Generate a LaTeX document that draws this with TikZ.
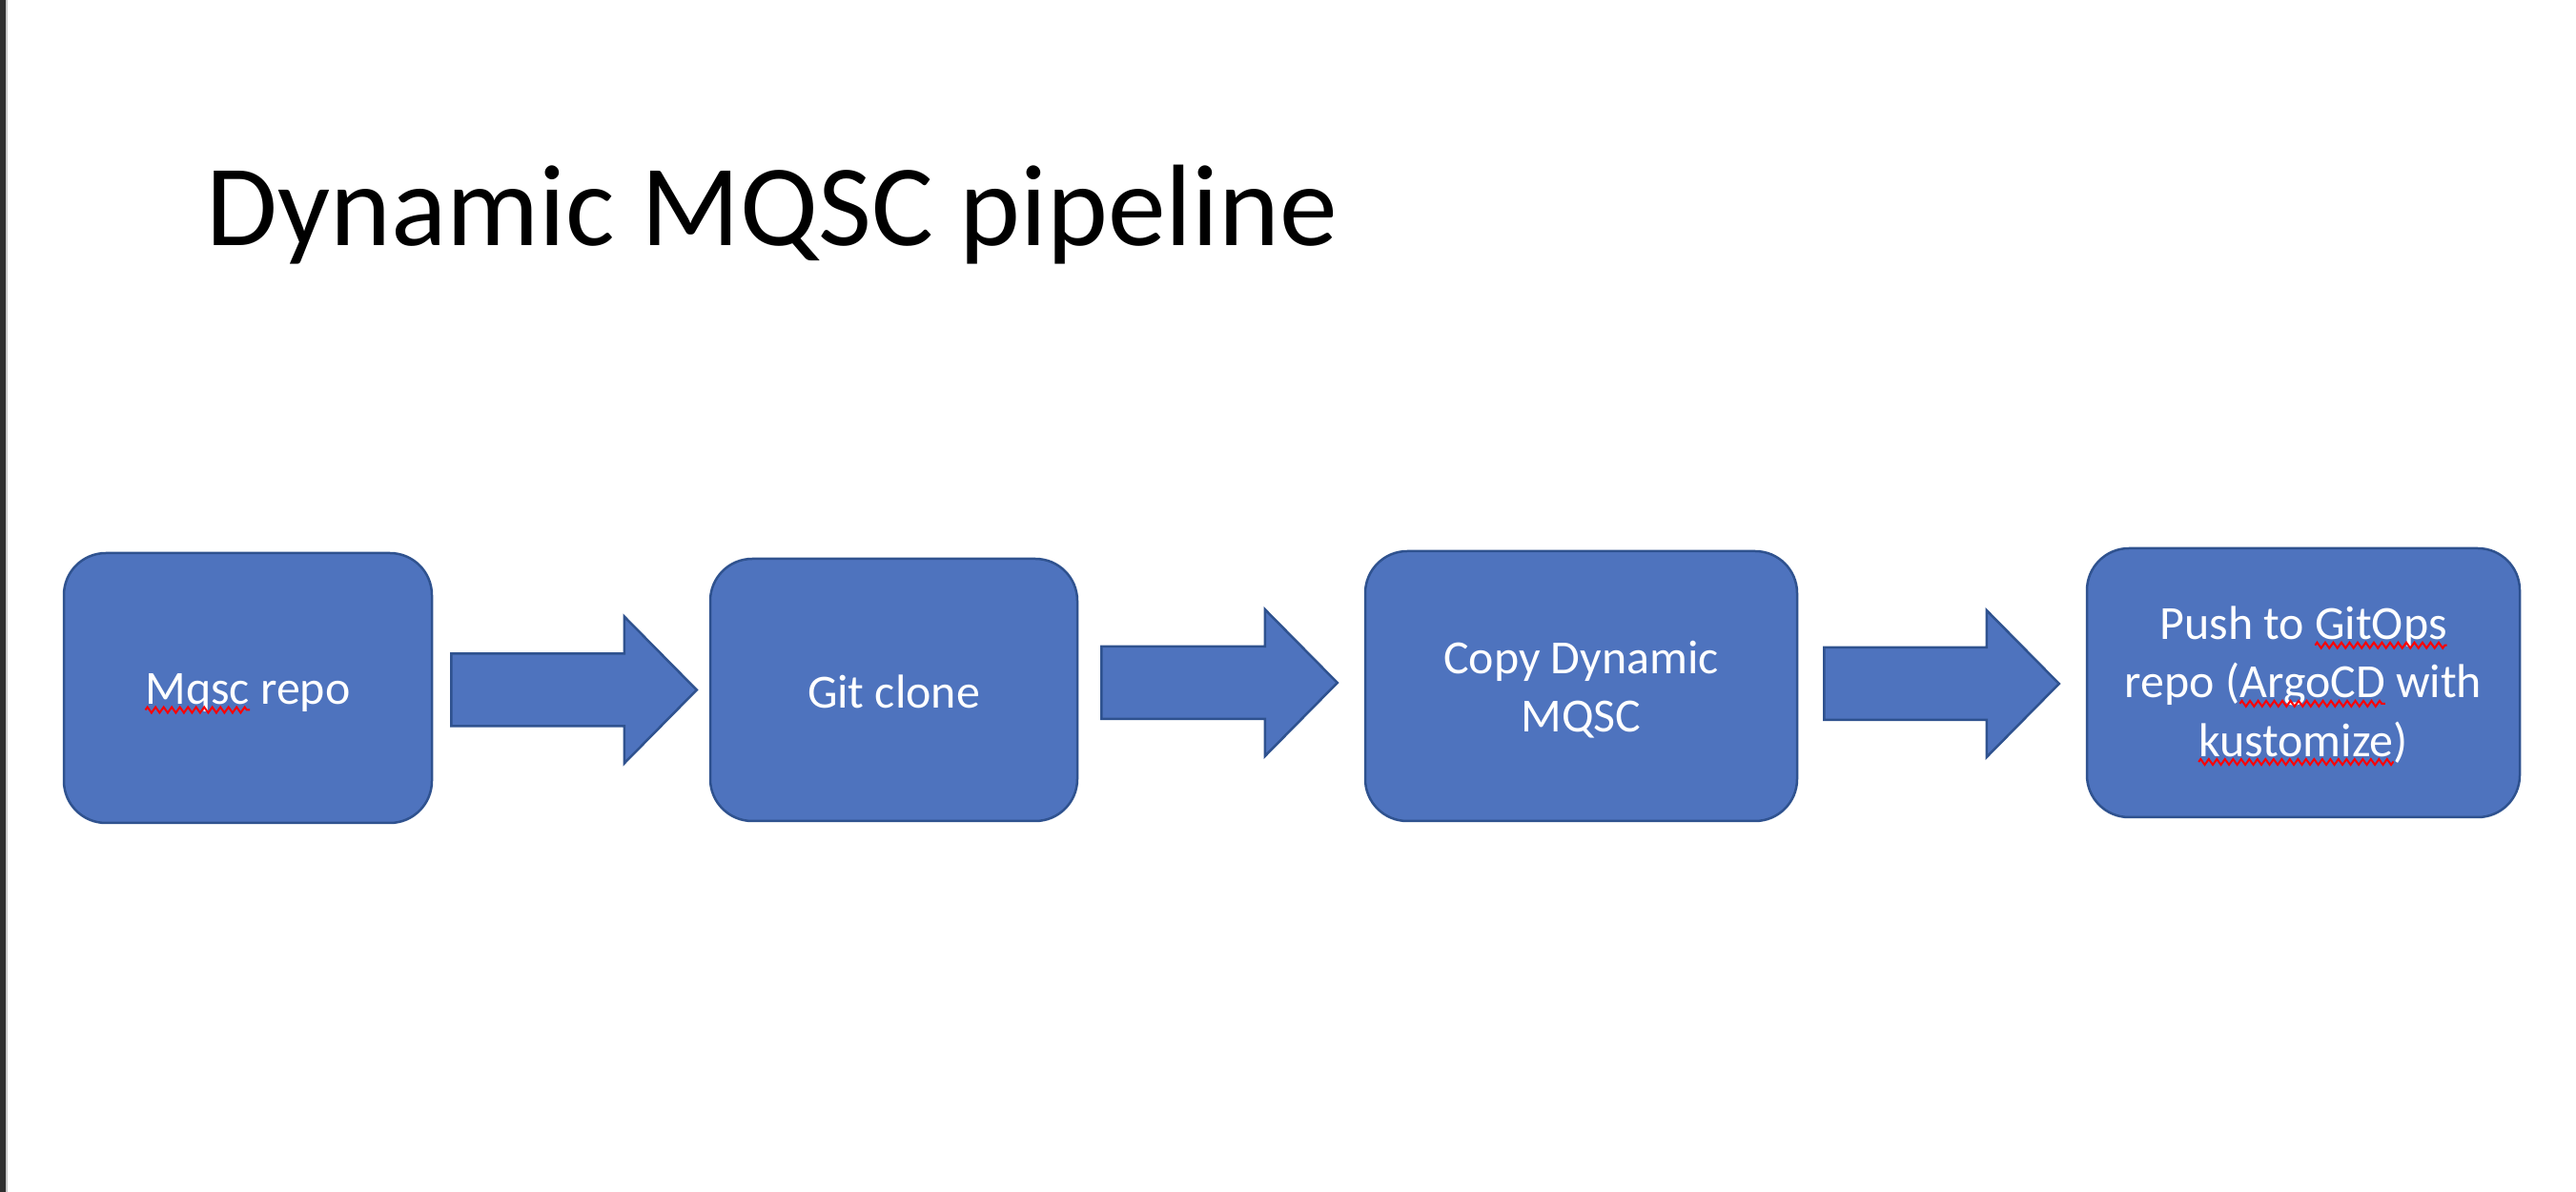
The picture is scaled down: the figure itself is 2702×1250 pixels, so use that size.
\documentclass[tikz,border=0pt]{standalone}
\usepackage{fontspec}
\setmainfont{Carlito}
\usetikzlibrary{decorations.pathmorphing,calc}
\definecolor{boxblue}{HTML}{4E73BE}
\definecolor{boxline}{HTML}{2F528F}
\definecolor{sidebar}{HTML}{2E2E2E}
\definecolor{sideedge}{HTML}{C8C8C8}
\newcommand\boxfont{\fontsize{14.2}{17.4}\selectfont}
% word with a red spell-check squiggle under it
\newcommand\sqw[1]{\begin{tikzpicture}[baseline=(sqword.base),x=1mm,y=1mm]%
\node[shape=rectangle,draw=none,fill=none,inner sep=0pt,outer sep=0pt,minimum width=0pt,minimum height=0pt,anchor=base,text=white,rounded corners=0pt] (sqword) at (0,0) {#1};%
\draw[overlay,draw=red,fill=none,line width=0.2mm,sharp corners,decorate,decoration={zigzag,segment length=0.85mm,amplitude=0.3mm}] ([yshift=-0.6mm]sqword.base west) -- ([yshift=-0.6mm]sqword.base east);%
\end{tikzpicture}}
\newcommand\blockarrow[2]{\draw[barrow] ($(#1)+(0,-38)$) -- ($(#2)+(-76,-38)$) -- ($(#2)+(-76,-77)$) -- (#2) -- ($(#2)+(-76,77)$) -- ($(#2)+(-76,38)$) -- ($(#1)+(0,38)$) -- cycle;}
\tikzset{
  box/.style={draw=boxline, fill=boxblue, line width=0.25mm, rounded corners=4.4mm, inner sep=0pt},
  boxtext/.style={text=white, font=\boxfont, align=center, inner sep=0pt},
  barrow/.style={draw=boxline, fill=boxblue, line width=0.25mm, line join=miter},
}
\begin{document}
\begin{tikzpicture}[x=0.1mm,y=-0.1mm]
\useasboundingbox (0,0) rectangle (2702,1250);
\fill[white] (0,0) rectangle (2702,1250);
\fill[sidebar] (0,0) rectangle (6,1250);
\fill[sideedge] (6,0) rectangle (7.5,1250);

\node[anchor=base west, font=\fontsize{34.6}{40}\selectfont, inner sep=0pt] (title) at (216,258) {Dynamic MQSC pipeline};

\node[box, minimum width=38.6mm, minimum height=28.3mm] (b1) at (260,721.5) {};
\node[box, minimum width=38.5mm, minimum height=27.5mm] (b2) at (937.5,723.5) {};
\node[box, minimum width=45.3mm, minimum height=28.3mm] (b3) at (1658.5,719.5) {};
\node[box, minimum width=45.4mm, minimum height=28.2mm] (b4) at (2416,716) {};

\node[boxtext] (b1t) at ([yshift=-0.5mm]b1.center) {\sqw{Mqsc} repo};
\node[boxtext] (b2t) at ([yshift=-0.2mm]b2.center) {Git clone};
\node[boxtext] (b3t) at ([yshift=-0.4mm]b3.center) {Copy Dynamic\\MQSC};
\node[boxtext] (b4t) at ([yshift=-0.2mm]b4.center) {Push to \sqw{GitOps}\\repo (\sqw{ArgoCD} with\\\sqw{kustomize})};

\coordinate (s1) at ($(b1.east)+(19,2)$);
\coordinate (t1) at ($(b2.west)+(-13,0)$);
\coordinate (s2) at ($(b2.east)+(24,-7.5)$);
\coordinate (t2) at ($(b3.west)+(-28,-3.5)$);
\coordinate (s3) at ($(b3.east)+(27,-2.5)$);
\coordinate (t3) at ($(b4.west)+(-28,1)$);
\blockarrow{s1}{t1}
\blockarrow{s2}{t2}
\blockarrow{s3}{t3}
\end{tikzpicture}
\end{document}
